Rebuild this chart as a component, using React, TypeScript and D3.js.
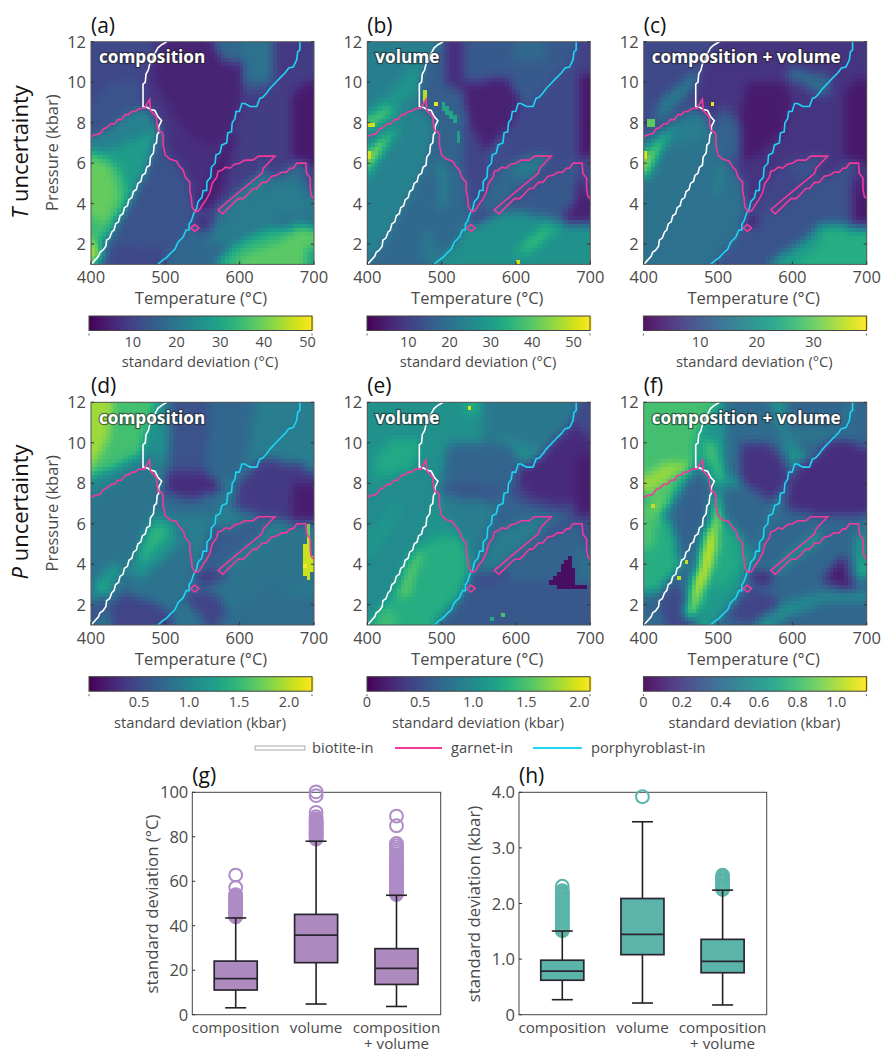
import React, { useEffect, useRef } from "react";
import * as d3 from "d3";

type Pt = [number, number];
type Region = [number, Pt[], boolean?];

// phase boundaries (T in C, P in kbar)
const biotiteIn: Pt[] = [[400,1],[405,1.2],[410,1.4],[412,1.6],[416,1.7],[420,1.9],[421,2.2],[425,2.3],[428,2.6],[431,2.7],[433,3],[437,3.1],[439,3.4],[443,3.5],[445,3.8],[449,3.9],[451,4.2],[455,4.3],[457,4.6],[461,4.7],[463,5],[467,5.1],[469,5.4],[473,5.5],[475,5.8],[479,5.9],[480,6.3],[484,6.5],[485,6.9],[488,7],[489,7.4],[491,7.5],[491,7.8],[495,8.1],[490,8.3],[486,8.6],[480,8.65],[476,8.75],[470,8.8],[470,9.9],[473,10],[474,10.4],[477,10.6],[479,10.9],[482,11],[484,11.3],[487,11.5],[490,11.7],[495,11.85],[502,12]];
const garnetIn: Pt[] = [[400,7.3],[405,7.4],[412,7.45],[417,7.7],[421,7.75],[427,7.95],[432,7.95],[436,8.15],[441,8.15],[446,8.4],[450,8.4],[455,8.55],[459,8.55],[465,8.7],[472,8.7],[474,8.85],[479,9.15],[480,8.6],[484,8.45],[488,8.3],[489,7.9],[490.5,7.6],[495,7.55],[497,7.4],[497,6.9],[500,6.4],[506,6.2],[515,6.1],[519,5.85],[524,5.65],[527,5.3],[533,5.05],[533,4.6],[535,4.3],[536,3.85],[540,3.6],[545,3.65],[551,4],[555,4.2],[560,4.55],[563,5],[569,5.3],[571,5.6],[576,5.65],[581,5.8],[587,5.75],[593,5.95],[600,6],[607,6.15],[618,6.15],[625,6.35],[632,6.35],[647.5,6.35],[637,5.95],[632,5.75],[630,5.5],[600,4.6],[571,3.7],[577,3.5],[591,4],[598,4.25],[605,4.25],[612,4.5],[618,4.75],[623,4.75],[630,5.05],[636,5.05],[643,5.35],[650,5.4],[656,5.55],[663,5.55],[668,5.75],[672,5.75],[677,6],[689,6],[690,5.5],[695,5.25],[695,4.7],[697,4.35],[700,4.25]];
const garnetDiamond: Pt[] = [[534,2.8],[539.5,2.97],[545,2.8],[539.5,2.63],[534,2.8]];
const porphyroblastIn: Pt[] = [[490,1],[496,1.2],[502,1.35],[507,1.55],[513,1.75],[517,2.1],[524,2.35],[528,2.7],[532,2.7],[532,3],[535,3.15],[538,3.5],[542,3.75],[544,4.1],[549,4.3],[551,4.65],[555.6,4.65],[556,5.1],[561,5.3],[562,5.8],[567,6],[568,6.4],[573.5,6.5],[576,6.9],[582.5,7],[584,7.5],[589,7.55],[590,8],[593.7,8.2],[595,8.55],[599.6,8.55],[603,8.95],[607,8.95],[614,8.8],[623,8.8],[627,9.2],[631,9.25],[636,9.45],[641,9.7],[647.5,9.95],[654,10.2],[661,10.45],[666,10.7],[672,10.75],[676.7,11.1],[678,11.5],[681,11.6],[681,12]];

// fields between the boundaries, shared by the panels
const leftWedge: Pt[] = [[400,1],[421,2],[449,3.9],[473,5.5],[485,6.9],[491,7.8],[480,8.6],[470,8.7],[450,8.4],[421,7.75],[400,7.3]];
const midWedge: Pt[] = [[400,1],[421,2],[449,3.9],[473,5.5],[485,6.9],[491,7.8],[497,7.4],[500,6.4],[515,6.1],[533,5.05],[535,4.3],[540,3.6],[535,3.1],[524,2.35],[502,1.35],[490,1]];
const upperLeft: Pt[] = [[400,7.3],[421,7.75],[450,8.4],[470,8.8],[470,9.9],[479,10.9],[502,12],[400,12]];
const upperMid: Pt[] = [[470,8.8],[491,8],[497,7.4],[500,6.4],[515,6.1],[533,5.05],[535,4.3],[540,3.6],[549,4.3],[567,6],[589,7.55],[607,8.95],[627,9.2],[661,10.45],[678,11.5],[681,12],[502,12],[479,10.9],[470,9.9]];
const rightField: Pt[] = [[540,3.6],[549,4.3],[567,6],[589,7.55],[607,8.95],[627,9.2],[661,10.45],[678,11.5],[681,12],[700,12],[700,4.25],[697,4.35],[690,5.5],[689,6],[677,6],[650,5.4],[612,4.5],[577,3.5]];
const lowerField: Pt[] = [[490,1],[524,2.35],[540,3.6],[577,3.5],[612,4.5],[650,5.4],[677,6],[689,6],[690,5.5],[697,4.35],[700,4.25],[700,1]];
const arc: Pt[] = [[542,3.6],[551,4],[560,4.55],[569,5.3],[576,5.65],[600,6],[625,6.35],[647.5,6.35],[632,5.75],[630,5.5],[571,3.7]];
const sliver: Pt[] = [[571,3.7],[630,5.5],[632,5.75],[640,5.2],[612,4.5],[577,3.5]];

// standard deviation patches per panel, later patches lie on top, true = single sharp cells
const panelA: Region[] = [
  [10,[[400,1],[700,1],[700,12],[400,12]]],
  [11,upperLeft],[13,[[400,7.6],[450,8.6],[470,9],[470,10],[430,10],[400,9]]],
  [8,upperMid],[5,[[485,10],[520,7.8],[560,6.5],[590,7.8],[603,9.2],[605,12],[490,12],[480,11]]],
  [7,[[470,10.5],[500,11],[500,12],[495,12],[480,11]]],
  [19,[[605,10.1],[647,10.1],[647,12],[605,12]]],[13,[[605,9.2],[640,9.7],[647,10.1],[605,10.1]]],[17,[[565,12],[605,12],[605,11],[580,11]]],
  [7,[[500,6.4],[515,6.1],[533,5.05],[535,4.3],[540,3.6],[567,6],[545,7],[520,7.6],[497,7.4]]],
  [9,rightField],[9,arc],[4,[[542,3.6],[567,6],[589,7.55],[597,7.4],[585,5.9],[575,4.5],[560,3.7]]],
  [3.5,[[672,6.2],[672,9.4],[690,10],[700,10],[700,5.8],[690,6]]],
  [17,lowerField],[6,[[536,3.4],[575,3.5],[565,3],[548,2.5],[540,2.8]]],
  [21,[[555,2],[590,2.1],[650,3.1],[700,3.4],[700,4.2],[680,5.2],[650,5.2],[612,4.4],[580,3.4],[565,2.9]]],
  [33,[[565,1],[592,1.95],[618,2.5],[650,2.85],[690,2.95],[700,2.85],[700,1]]],
  [38,[[590,1],[612,1.6],[650,2.1],[680,2.8],[700,2.75],[700,1]]],[30,[[692,1],[700,1],[700,1.8],[692,1.8]]],
  [24,sliver],
  [13,midWedge],[11,[[420,1],[500,1],[500,1.7],[440,2]]],
  [28,leftWedge],[22,[[400,6.4],[440,6.9],[470,7.4],[491,7.8],[480,8.5],[450,8.3],[421,7.7],[400,7.3]]],
  [35,[[400,2.1],[412,2.1],[430,3],[452,4.2],[440,5.8],[400,6.7]]],[39,[[400,3.4],[420,3],[436,4.4],[426,5.9],[400,6.2]]],
  [44,[[400,1],[413,1.2],[413,1.7],[400,2.3]]],
];
const panelB: Region[] = [
  [16,[[400,1],[700,1],[700,12],[400,12]]],
  [23,upperLeft],[28,[[400,7.5],[470,9.5],[490,11],[460,10.7],[420,9.2],[400,8.6]]],
  [16,upperMid],[7,[[505,12],[505,9.8],[530,9.5],[530,12]]],
  [15,[[530,9.9],[590,10.2],[627,9.2],[661,10.45],[681,12],[530,12]]],[18,[[595,11],[640,11],[640,12],[595,12]]],
  [11,[[530,8.5],[560,6.5],[567,6],[549,4.3],[540,3.6],[535,4.3],[530,6]]],
  [5,[[530,10],[590,10.2],[607,9],[590,7.6],[575,7],[560,6.5],[533,8.3]]],
  [12,rightField],[10,[[684,10.5],[700,10.5],[700,12],[684,12]]],
  [3,[[683,6],[684,10.5],[700,10.5],[700,6.5]]],
  [18,arc],[23,[[590,5.9],[625,6.3],[647,6.35],[632,5.7],[610,5.2]]],[12,sliver],
  [27,lowerField],[15,[[535,3.3],[577,3.5],[612,4.5],[650,5.4],[677,6],[689,6],[690,5.5],[700,4.2],[700,3],[660,3.2],[620,3.5],[575,3.6]]],
  [5,[[655,3.15],[680,4.2],[684,5.5],[689,6],[690,5.5],[697,4.35],[700,4.25],[700,2.95],[680,3]]],
  [5,[[537,3.3],[560,3.6],[575,3.6],[545,3]]],
  [33,[[592,1.4],[637,3],[664,2.8],[619,1.5]]],[38,[[610,1.9],[637,2.8],[650,2.8],[622,1.9]]],
  [18,midWedge],[22,[[490,1],[500,1.3],[480,3],[470,1.5]]],
  [24,leftWedge],[38,[[400,5.2],[403,6.6],[425,7.5],[445,7.8],[420,6.7],[408,5.8]]],[46,[[400,5.8],[400,6.5],[420,7.2],[430,7.3],[418,6.5],[405,6]]],
  [17,[[485,6.6],[530,6],[533,8.5],[510,9],[495,8.3]]],
  [30,[[497,3.8],[503,5.8],[507,5],[502,3.8]]],[30,[[495,5.5],[500,6.4],[502,6.4],[498,5.3]]],
  [40,[[400,7.7],[440,8.5],[425,8.8],[400,8.2]]],[46,[[400,7.9],[420,8],[418,8.3],[400,8.3]]],
  [50,[[400,6.2],[403,6.2],[403,6.6],[400,6.6]],true],[50,[[400,7.9],[410,7.9],[410,8.1],[400,8.1]],true],
  [48,[[477,9.1],[482,9.1],[482,9.6],[477,9.6]],true],[52,[[490,8.8],[497,8.8],[497,9],[490,9]],true],[32,[[497,8.8],[520,8],[520,8.3],[500,9]],true],[30,[[520,7],[525,7],[525,7.6],[520,7.6]],true],
  [50,[[600,1],[606,1],[606,1.2],[600,1.2]],true],
];
const panelC: Region[] = [
  [8.6,[[400,1],[700,1],[700,12],[400,12]]],
  [8.6,upperLeft],[16.5,[[415,8],[440,8.7],[470,10],[478,10.9],[460,10.2],[430,9.3],[412,8.4]]],
  [6,upperMid],[2.8,[[530,6],[560,6.5],[590,7.8],[600,9],[590,10],[540,10],[530,8.5]]],
  [12,[[490,6.6],[530,6],[530,8],[510,8.8],[495,8.2]]],
  [6,rightField],[14,[[590,10.2],[600,10.8],[640,10.2],[645,11],[650,9.5],[635,9.4],[610,10]]],[14,[[590,10.3],[647,9.6],[647,10],[600,10.8]]],
  [2.5,[[672,6.3],[672,9.5],[690,10.2],[700,10],[700,6],[690,6]]],
  [8,arc],[10,[[590,5.9],[625,6.3],[647,6.35],[632,5.7],[610,5.2]]],[8,sliver],
  [10,lowerField],[2.8,[[680,3],[680,5],[689,6],[690,5.5],[697,4.35],[700,4.25],[700,3]]],[3,[[535,3.3],[560,3.5],[550,2.9],[540,2.9]]],
  [21.6,[[565,1],[608,2],[644,3.1],[680,2.85],[700,2.7],[700,1]]],[24.4,[[640,3],[700,2.5],[700,1],[600,1],[640,2]]],
  [14.5,midWedge],[19.6,[[495,4.5],[503,6],[506,5],[500,4.5]]],
  [15,leftWedge],[16.5,[[400,6.5],[445,7.8],[470,8.4],[480,8.5],[491,7.8],[470,7],[440,6.9]]],
  [25.5,[[400,5],[400,6.5],[425,7.4],[445,7.8],[425,6.7],[410,5.5]]],[32,[[400,5.3],[400,6.4],[420,6.9],[428,7.2],[415,6.2],[407,5.5]]],
  [37,[[400,6.2],[403,6.2],[403,6.6],[400,6.6]],true],
  [29.5,[[405,7.9],[415,7.9],[415,8.3],[405,8.3]],true],[38,[[490,8.8],[497,8.8],[497,9],[490,9]],true],
];
const panelD: Region[] = [
  [0.78,[[400,1],[700,1],[700,12],[400,12]]],
  [1,upperLeft],[1.56,[[400,8.2],[440,8.9],[470,9.5],[475,10.5],[490,12],[400,12]]],[1.9,[[400,8.7],[400,12],[430,12],[425,10.5],[415,9.5]]],
  [0.94,upperMid],[1.1,[[470,9.9],[480,11],[502,12],[510,12],[510,10],[490,9]]],[0.56,[[505,8.5],[505,12],[560,12],[555,8.5]]],
  [0.29,[[497,7.3],[500,8.5],[560,8.6],[580,7.6],[540,7.2]]],[0.74,[[555,8.5],[560,12],[620,12],[610,9],[590,8]]],
  [0.94,[[620,9.2],[661,10.45],[681,12],[620,12]]],
  [0.78,[[497,6.4],[540,6.5],[565,6.4],[580,7.2],[540,7.2],[497,7.4]]],
  [0.94,rightField],[0.38,[[597,8],[627,9.2],[680,9],[700,8.5],[700,6],[677,6],[632,6.4],[590,6.8]]],[0.18,[[670,6.2],[670,8],[700,8],[700,6.2]]],
  [0.65,arc],[0.5,[[543,3.8],[567,6],[576,5.6],[560,4.55]]],[1,sliver],
  [0.85,lowerField],[0.33,[[540,3.6],[590,3.7],[575,3.2],[545,2.9]]],[0.45,[[525,2.3],[560,1],[590,1],[570,2.5],[545,2.9]]],
  [0.78,[[565,1],[640,2.9],[700,3],[700,1]]],[0.9,[[640,2.3],[660,2.8],[700,3],[700,2.4]]],
  [0.83,midWedge],[0.45,[[430,1],[510,1],[510,1.6],[480,2.2],[445,2.6],[421,1.9]]],
  [1.16,[[450,3.6],[475,5.5],[485,6.6],[500,6.4],[515,5.9],[520,5],[490,4],[470,3.2]]],[1.45,[[465,4.3],[470,5.4],[480,6],[500,6],[505,5.5],[490,4.8],[475,4.2]]],
  [0.85,leftWedge],[0.45,[[400,1],[420,2],[424,2.2],[415,2.2],[400,1.8]]],[1.2,[[405,2.4],[435,3.3],[445,3.8],[430,4],[405,3.1]]],[1.45,[[410,2.6],[425,2.6],[425,3],[410,3]]],
  [2.05,[[683,3.7],[683,4.9],[688,5],[688,5.5],[695,5.5],[697,4.5],[700,4],[695,3.3],[690,3.3]],true],[1.75,[[692,5.5],[697,5.5],[697,6.1],[692,6.1]],true],[2.23,[[683,3.8],[690,3.8],[690,4],[683,4]],true],
];
const panelE: Region[] = [
  [0.84,[[400,1],[700,1],[700,12],[400,12]]],
  [1.05,upperLeft],[1.26,[[410,8.2],[460,8.7],[470,9.5],[470,10.3],[430,10.2],[410,9.2]]],
  [1.05,upperMid],[0.67,[[500,8.2],[510,10],[590,10],[607,9],[590,7.8],[540,7.8]]],[0.55,[[500,7.3],[497,8],[540,8],[590,7.7],[575,6.9],[540,7.1]]],
  [0.88,[[500,6.4],[530,5],[545,4.3],[567,6],[575,7],[540,7.2],[497,7.4]]],
  [0.84,[[555,10],[590,10.2],[625,9.6],[650,10],[681,12],[555,12]]],[1.3,[[528,11.4],[548,11.4],[548,12],[528,12]]],
  [0.46,rightField],[0.25,[[600,8.3],[627,9.2],[660,10.4],[680,11],[700,10],[700,7],[660,7],[620,7.2]]],[0.17,[[680,6.5],[680,9.5],[700,9.5],[700,6.5]]],
  [0.67,[[545,4.3],[590,7.3],[625,6.8],[680,6.4],[660,6],[612,4.8],[575,3.7],[555,3.9]]],
  [0.88,arc],[0.63,sliver],
  [0.57,lowerField],[0.67,[[540,3.6],[577,3.5],[612,4.5],[650,5.4],[677,6],[689,6],[690,5.3],[700,4.2],[700,3],[640,3.2],[590,3.3]]],[0.78,[[683,3.1],[687,5],[692,5],[700,4.1],[700,3.3]]],
  [0.3,[[535,3.2],[575,3.6],[590,3.5],[550,3.1]]],
  [1.09,midWedge],[1.3,[[410,1.06],[439,2.8],[471,4.8],[493,5.4],[527,5.3],[536,4.1],[540,3.5],[531,2.8],[491,1.06]]],
  [1.58,[[440,2.5],[455,2.4],[475,4.5],[470,4.9],[455,4]]],[1.43,[[405,1],[440,1],[440,1.6],[420,2]]],
  [1,leftWedge],[1.1,[[400,4],[430,5.5],[450,7],[440,7.3],[400,5.5]]],
  [0.08,[[645,3.15],[673,4.35],[682,3.1],[700,2.8],[675,2.8],[655,2.9]],true],
  [2,[[537,11.6],[542,11.6],[542,11.8],[537,11.8]],true],[1.47,[[578,1.4],[583,1.4],[583,1.6],[578,1.6]],true],[1.26,[[567,1.2],[572,1.2],[572,1.4],[567,1.4]],true],
];
const panelF: Region[] = [
  [0.4,[[400,1],[700,1],[700,12],[400,12]]],
  [0.81,upperLeft],[0.98,[[400,7.3],[400,8.3],[430,9],[450,9],[470,8.8],[450,8.4],[421,7.75]]],
  [0.6,upperMid],[0.4,[[510,8.5],[510,12],[570,12],[590,10],[600,8.5],[570,7.5]]],[0.17,[[530,8],[530,10],[570,10],[598,8.6],[590,7.6],[570,7]]],
  [0.81,[[478,9.3],[480,10.2],[497,10],[510,8.2],[500,8],[490,9]]],
  [0.38,[[505,7.9],[505,6.5],[530,5.5],[545,4.5],[565,6],[575,7],[540,7.8]]],
  [0.38,[[590,10.3],[627,9.2],[661,10.45],[681,12],[590,12]]],[0.49,[[590,10.3],[650,10.3],[660,10.5],[590,10.7]]],
  [0.38,rightField],[0.15,[[595,8],[607,9],[627,9.2],[661,10.4],[700,9.7],[700,6.5],[640,6.4],[590,6.8]]],[0.49,[[640,10.2],[685,10.2],[685,10.4],[655,10.4]]],[0.38,[[680,10.5],[700,10.5],[700,12],[680,12]]],
  [0.38,arc],[0.62,sliver],
  [0.38,lowerField],[0.12,[[538,3.5],[578,3.6],[570,3],[550,3]]],[0.23,[[510,1.4],[560,1],[600,1.3],[575,2.6],[540,2.8]]],
  [0.58,[[545,1],[590,2.1],[640,2.6],[700,2.7],[700,2.3],[650,2.3],[600,1.5],[570,1]]],
  [0.09,[[640,3.2],[670,4.6],[680,3],[695,2.8],[665,2.8]]],
  [0.69,[[685,3.5],[683,5.5],[690,5.8],[697,4.3],[700,4.2],[700,3.5],[690,3.2]]],[0.52,[[700,4.5],[697,4.6],[697,6.5],[700,6.5]]],
  [0.4,midWedge],[0.25,[[421,2],[430,1],[470,1],[455,2.5],[440,3.3]]],
  [0.62,[[470,1],[490,4],[500,6.5],[515,6.1],[533,5],[535,4.3],[540,3.6],[525,2.4],[502,1.3],[490,1]]],
  [0.7,[[500,6],[520,5.8],[530,4],[510,2.8],[495,3]]],[0.83,[[492,6],[492,7.3],[505,7.3],[505,6]]],
  [0.95,[[455,1.5],[460,2.6],[475,4],[480,5.5],[495,6.6],[505,6.5],[500,5],[492,3.7],[480,2.5],[470,1.5]]],
  [1.08,[[462,2.6],[478,4.5],[485,5.6],[497,5.9],[493,4.4],[482,3.2],[470,2.5]]],
  [0.35,[[430,4.2],[455,4.5],[480,6],[489,7.5],[478,8.5],[450,7.5]]],
  [0.38,[[400,1],[421,2],[436,3],[420,3],[400,2.6]]],
  [0.72,[[400,2.6],[400,6],[420,6.7],[440,6],[450,4],[430,3],[420,2.6]]],
  [0.83,[[400,5],[400,7.25],[440,8.05],[465,8.6],[440,7.2],[420,6.2],[410,4.5]]],[0.98,[[405,6.6],[430,7.4],[440,7.6],[415,6.6]]],
  [1.05,[[444,3.3],[449,3.3],[449,3.5],[444,3.5]],true],[1.05,[[454,4.1],[459,4.1],[459,4.3],[454,4.3]],true],[1.05,[[412,6.9],[417,6.9],[417,7.1],[412,7.1]],true],
];

// colourbar limits and ticks
const colorMaxes = [51, 54, 39.3, 2.23, 2.1, 1.157];
const colorTicks = [[10,20,30,40,50],[10,20,30,40,50],[10,20,30],[0.5,1,1.5,2],[0,0.5,1,1.5,2],[0,0.2,0.4,0.6,0.8,1]];
const colorLabels = ["standard deviation (°C)","standard deviation (°C)","standard deviation (°C)","standard deviation (kbar)","standard deviation (kbar)","standard deviation (kbar)"];
const panelLetters = ["(a)","(b)","(c)","(d)","(e)","(f)"];
const panelTitles = ["composition","volume","composition + volume","composition","volume","composition + volume"];
const panelRegions = [panelA, panelB, panelC, panelD, panelE, panelF];
const pressureTicks = [2,4,6,8,10,12];
const temperatureTicks = [400,500,600,700];

// box plots: [low whisker, q1, median, q3, high whisker]
const boxCategories = ["composition","volume","composition"];
const tempBoxes = [[3.1,11.1,16.2,24.1,43.5],[4.8,23.4,35.8,45.1,78],[3.7,13.6,20.8,29.7,53.7]];
const tempOutliers = [
  [44,44.5,45,45.5,46,46.5,47,47.5,48,48.5,49,49.5,50,50.5,51,51.5,52,52.5,53,53.5,54,57.2,62.8],
  [79,79.5,80,80.5,81,81.5,82,82.5,83,83.5,84,84.5,85,85.5,86,86.5,87,87.5,88,89,91,98.5,100.2],
  [54,54.5,55,55.5,56,56.5,57,57.5,58,58.5,59,59.5,60,60.5,61,61.5,62,62.5,63,63.5,64,64.5,65,65.5,66,66.5,67,67.5,68,68.5,69,69.5,70,71,72,73,74,75,76,77,85,89.3],
];
const pressBoxes = [[0.27,0.62,0.785,0.98,1.505],[0.21,1.08,1.445,2.09,3.47],[0.175,0.755,0.96,1.355,2.24]];
const pressOutliers = [
  [1.51,1.54,1.57,1.6,1.63,1.66,1.69,1.72,1.75,1.78,1.81,1.84,1.87,1.9,1.93,1.96,1.99,2.02,2.05,2.08,2.11,2.14,2.17,2.2,2.23,2.31],
  [3.92],
  [2.25,2.28,2.31,2.34,2.37,2.4,2.43,2.46,2.49,2.51],
];

const FONT = "'Open Sans', sans-serif";
const INK = "#4a4a4a";
const PINK = "#f23a9b";
const CYAN = "#1fd4f4";

function drawPanel(svg: any, idx: number) {
  const col = idx % 3, row = idx < 3 ? 0 : 1;
  const left = [91, 367.3, 643.7][col];
  const top = [41.7, 402.3][row];
  const w = 223, h = 222.7;
  const dy = top - 41.7;
  const g = svg.append("g");

  const x = d3.scaleLinear().domain([400, 700]).range([left, left + w]);
  const y = d3.scaleLinear().domain([1, 12]).range([top + h, top]);
  const color = d3.scaleSequential(d3.interpolateViridis).domain([0, colorMaxes[idx]]);

  // paint the 5 C x 0.2 kbar model grid from the patches, soften, then put the sharp cells back
  const nx = 60, ny = 55;
  const regions = panelRegions[idx];
  const grid = new Float64Array(nx * ny);
  const paint = (sharp: boolean) => {
    d3.range(ny).forEach((j) => {
      d3.range(nx).forEach((i) => {
        regions.forEach((r) => {
          if (!!r[2] === sharp && d3.polygonContains(r[1], [402.5 + i * 5, 1.1 + j * 0.2])) grid[j * nx + i] = r[0];
        });
      });
    });
  };
  paint(false);
  d3.blur2({ data: grid, width: nx, height: ny }, 0.45);
  paint(true);

  const cells = g.append("g").attr("shape-rendering", "crispEdges");
  d3.range(ny).forEach((j) => {
    d3.range(nx).forEach((i) => {
      const T = 402.5 + i * 5, P = 1.1 + j * 0.2;
      cells.append("rect")
        .attr("x", x(T - 2.5)).attr("y", y(P + 0.1))
        .attr("width", x(T + 2.5) - x(T - 2.5)).attr("height", y(P - 0.1) - y(P + 0.1))
        .attr("fill", color(grid[j * nx + i]));
    });
  });

  const line = d3.line().x((d: any) => x(d[0])).y((d: any) => y(d[1]));
  g.append("path").attr("d", line(biotiteIn)).attr("fill", "none").attr("stroke", "#fff").attr("stroke-width", 1.6);
  g.append("path").attr("d", line(porphyroblastIn)).attr("fill", "none").attr("stroke", CYAN).attr("stroke-width", 1.6);
  g.append("path").attr("d", line(garnetIn)).attr("fill", "none").attr("stroke", PINK).attr("stroke-width", 1.6);
  g.append("path").attr("d", line(garnetDiamond)).attr("fill", "none").attr("stroke", PINK).attr("stroke-width", 1.6);

  g.append("rect").attr("x", left).attr("y", top).attr("width", w).attr("height", h)
    .attr("fill", "none").attr("stroke", "#555").attr("stroke-width", 1);

  pressureTicks.forEach((t) => {
    g.append("line").attr("x1", left).attr("x2", left + 3).attr("y1", y(t)).attr("y2", y(t)).attr("stroke", "#333");
    g.append("line").attr("x1", left + w - 3).attr("x2", left + w).attr("y1", y(t)).attr("y2", y(t)).attr("stroke", "#333");
    g.append("text").attr("x", left - 5).attr("y", y(t) + 6).attr("text-anchor", "end")
      .attr("font-size", 16.5).attr("fill", INK).text(t);
  });
  temperatureTicks.forEach((t) => {
    g.append("line").attr("x1", x(t)).attr("x2", x(t)).attr("y1", top + h).attr("y2", top + h - 3).attr("stroke", "#333");
    g.append("text").attr("x", x(t)).attr("y", 283 + dy).attr("text-anchor", "middle")
      .attr("font-size", 16.5).attr("fill", INK).text(t);
  });
  g.append("text").attr("x", left + 110).attr("y", 304 + dy).attr("text-anchor", "middle")
    .attr("font-size", 16.5).attr("fill", INK).text("Temperature (°C)");
  if (col === 0) {
    g.append("text").attr("transform", `translate(58,${top + 111}) rotate(-90)`).attr("text-anchor", "middle")
      .attr("font-size", 16.5).attr("fill", INK).text("Pressure (kbar)");
  }
  g.append("text").attr("x", left).attr("y", 33 + dy * 0.998).attr("font-size", 21).attr("fill", "#111").text(panelLetters[idx]);
  g.append("text").attr("x", left + 8).attr("y", top + 21.5).attr("font-size", 17.2).attr("font-weight", 700)
    .attr("fill", "#fff").attr("stroke", "#222").attr("stroke-opacity", 0.6).attr("stroke-width", 2.5)
    .attr("paint-order", "stroke").text(panelTitles[idx]);

  // colourbar
  const cbLeft = col === 0 ? 89 : left - 0.3;
  const cbTop = [316, 676.7][row];
  const cbH = 14.5;
  const cx = d3.scaleLinear().domain([0, colorMaxes[idx]]).range([cbLeft, cbLeft + 223]);
  d3.range(224).forEach((k) => {
    g.append("rect").attr("x", cbLeft + k).attr("y", cbTop).attr("width", 1.4).attr("height", cbH)
      .attr("fill", color(cx.invert(cbLeft + k + 0.5)));
  });
  g.append("rect").attr("x", cbLeft).attr("y", cbTop).attr("width", 223).attr("height", cbH)
    .attr("fill", "none").attr("stroke", "#444").attr("stroke-width", 1);
  [cbLeft, cbLeft + 223].forEach((p) => {
    g.append("line").attr("x1", p).attr("x2", p).attr("y1", cbTop + cbH + 3).attr("y2", cbTop + cbH + 5).attr("stroke", "#666");
  });
  colorTicks[idx].forEach((t) => {
    const label = colorMaxes[idx] > 5 ? String(t) : t === 0 ? "0" : d3.format(".1f")(t);
    g.append("text").attr("x", cx(t)).attr("y", cbTop + 30.5).attr("text-anchor", "middle")
      .attr("font-size", 14.5).attr("fill", INK).text(label);
  });
  g.append("text").attr("x", cbLeft + 111).attr("y", cbTop + 51).attr("text-anchor", "middle")
    .attr("font-size", 14.7).attr("fill", INK).text(colorLabels[idx]);
}

function drawBoxes(svg: any, left: number, width: number, maxY: number, tickVals: number[], tickFmt: (t: number) => string,
  boxes: number[][], outliers: number[][], fill: string, ring: string, title: string, letter: string, titleX: number) {
  const g = svg.append("g");
  const top = 792.3, bottom = 1014.7;
  const x = d3.scaleLinear().domain([0.46, 3.55]).range([left, left + width]);
  const y = d3.scaleLinear().domain([0, maxY]).range([bottom, top]);

  g.append("rect").attr("x", left).attr("y", top).attr("width", width).attr("height", bottom - top)
    .attr("fill", "#fff").attr("stroke", "#444").attr("stroke-width", 1);

  boxes.forEach((b, i) => {
    const c = x(i + 1);
    outliers[i].forEach((o) => {
      g.append("circle").attr("cx", c).attr("cy", y(o)).attr("r", 6.4).attr("fill", "none").attr("stroke", ring).attr("stroke-width", 2);
    });
    g.append("line").attr("x1", c).attr("x2", c).attr("y1", y(b[0])).attr("y2", y(b[4])).attr("stroke", "#222").attr("stroke-width", 1.6);
    [b[0], b[4]].forEach((v) => {
      g.append("line").attr("x1", c - 10.5).attr("x2", c + 10.5).attr("y1", y(v)).attr("y2", y(v)).attr("stroke", "#222").attr("stroke-width", 1.6);
    });
    g.append("rect").attr("x", c - 21.5).attr("width", 43).attr("y", y(b[3])).attr("height", y(b[1]) - y(b[3]))
      .attr("fill", fill).attr("stroke", "#2b2530").attr("stroke-width", 1.7);
    g.append("line").attr("x1", c - 21.5).attr("x2", c + 21.5).attr("y1", y(b[2])).attr("y2", y(b[2])).attr("stroke", "#2b2530").attr("stroke-width", 1.7);
    const label = g.append("text").attr("text-anchor", "middle").attr("font-size", 15.2).attr("fill", INK);
    label.append("tspan").attr("x", c).attr("y", 1032.5).text(boxCategories[i]);
    if (i === 2) label.append("tspan").attr("x", c).attr("y", 1049).text("+ volume");
  });

  tickVals.forEach((t) => {
    g.append("line").attr("x1", left).attr("x2", left + 3).attr("y1", y(t)).attr("y2", y(t)).attr("stroke", "#333");
    g.append("text").attr("x", left - 4).attr("y", y(t) + 6).attr("text-anchor", "end").attr("font-size", 16.5).attr("fill", INK).text(tickFmt(t));
  });
  g.append("text").attr("transform", `translate(${titleX},904) rotate(-90)`).attr("text-anchor", "middle")
    .attr("font-size", 16.8).attr("fill", INK).text(title);
  g.append("text").attr("x", left).attr("y", 783).attr("font-size", 21).attr("fill", "#111").text(letter);
}

export default function App() {
  const ref = useRef<SVGSVGElement>(null);

  useEffect(() => {
    const svg: any = d3.select(ref.current);
    svg.selectAll("*").remove();
    svg.attr("font-family", FONT);

    d3.range(6).forEach((i) => drawPanel(svg, i));

    // row labels
    [[152, "uncertainty", "T"], [512, "uncertainty", "P"]].forEach((r: any) => {
      const t = svg.append("text").attr("transform", `translate(28,${r[0]}) rotate(-90)`).attr("text-anchor", "middle")
        .attr("font-size", 22).attr("fill", "#111");
      t.append("tspan").attr("font-style", "italic").text(r[2]);
      t.append("tspan").text(" " + r[1]);
    });

    // legend
    const ly = 748;
    svg.append("rect").attr("x", 255).attr("y", ly - 2).attr("width", 50).attr("height", 4).attr("fill", "#fff").attr("stroke", "#aaa").attr("stroke-width", 1);
    svg.append("line").attr("x1", 395).attr("x2", 442).attr("y1", ly).attr("y2", ly).attr("stroke", PINK).attr("stroke-width", 2);
    svg.append("line").attr("x1", 533).attr("x2", 582).attr("y1", ly).attr("y2", ly).attr("stroke", CYAN).attr("stroke-width", 2);
    [[312, "biotite-in"], [451, "garnet-in"], [591, "porphyroblast-in"]].forEach((l: any) => {
      svg.append("text").attr("x", l[0]).attr("y", ly + 5).attr("font-size", 14.7).attr("fill", INK).text(l[1]);
    });

    drawBoxes(svg, 192.3, 248.4, 100, [0,20,40,60,80,100], (t) => String(t), tempBoxes, tempOutliers,
      "#ad8bbf", "#ae8cc6", "standard deviation (°C)", "(g)", 158);
    drawBoxes(svg, 519, 247.7, 4, [0,1,2,3,4], (t) => (t === 0 ? "0" : d3.format(".1f")(t)), pressBoxes, pressOutliers,
      "#5ab4a9", "#5ab4a9", "standard deviation (kbar)", "(h)", 480);
  }, []);

  return <svg ref={ref} width={883} height={1052} style={{ position: "absolute", left: 0, top: 0, display: "block", background: "#fff" }} />;
}
